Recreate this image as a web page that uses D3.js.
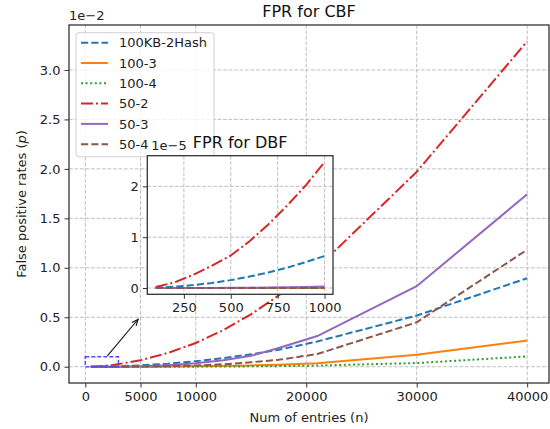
<!DOCTYPE html>
<html>
<head>
<meta charset="utf-8">
<script src="https://cdn.jsdelivr.net/npm/d3@7"></script>
<style>
  body { margin: 0; background: #fff; }
  svg { font-family: "DejaVu Sans", sans-serif; }
</style>
</head>
<body>
<div id="chart"></div>
<script>
// main chart (CBF), values in units of 1e-2
let cbfEntries = [500, 1000, 2500, 5000, 7500, 10000, 12500, 15000, 17500, 21000, 30000, 40000];
let cbf100kb2 = [0.0001, 0.0006, 0.0035, 0.014, 0.031, 0.056, 0.087, 0.126, 0.171, 0.255, 0.517, 0.895];
let cbf100_3 = [0, 0, 0.0001, 0.0006, 0.002, 0.004, 0.008, 0.013, 0.021, 0.035, 0.12, 0.264];
let cbf100_4 = [0, 0, 0, 0.0001, 0.0004, 0.001, 0.002, 0.004, 0.006, 0.012, 0.037, 0.104];
let cbf50_2 = [0.001, 0.003, 0.017, 0.065, 0.14, 0.24, 0.37, 0.53, 0.72, 1.0, 1.97, 3.29];
let cbf50_3 = [0, 0.0001, 0.001, 0.005, 0.015, 0.035, 0.065, 0.11, 0.19, 0.31, 0.814, 1.743];
let cbf50_4 = [0, 0, 0.0002, 0.0015, 0.005, 0.012, 0.025, 0.045, 0.07, 0.128, 0.449, 1.183];

// inset chart (DBF), values in units of 1e-5
let dbfEntries = [100, 200, 300, 400, 500, 600, 700, 800, 900, 1000];
let dbf100kb2 = [0.006, 0.025, 0.057, 0.10, 0.155, 0.225, 0.305, 0.40, 0.51, 0.63];
let dbf100_3 = [0, 0, 0, 0, 0.0001, 0.0002, 0.0003, 0.0005, 0.0007, 0.001];
let dbf100_4 = [0, 0, 0, 0, 0, 0, 0, 0.0001, 0.0001, 0.0002];
let dbf50_2 = [0.02, 0.11, 0.26, 0.44, 0.64, 0.92, 1.25, 1.62, 2.02, 2.48];
let dbf50_3 = [0, 0, 0.001, 0.002, 0.004, 0.006, 0.01, 0.015, 0.021, 0.03];
let dbf50_4 = [0, 0, 0, 0, 0.0002, 0.0004, 0.0007, 0.001, 0.0015, 0.002];

let seriesNames = ['100KB-2Hash', '100-3', '100-4', '50-2', '50-3', '50-4'];
let seriesColors = ['#1f77b4', '#ff7f0e', '#2ca02c', '#d62728', '#9467bd', '#8c564b'];
let seriesDash = ['7.2,3.1', null, '2,2.6', '12,3,2,3', null, '7.2,3.1'];

let xTicks = [0, 5000, 10000, 20000, 30000, 40000];
let yTicks = [0, 0.5, 1.0, 1.5, 2.0, 2.5, 3.0];
let insetXTicks = [250, 500, 750, 1000];
let insetYTicks = [0, 1, 2];

let cbfSeries = [cbf100kb2, cbf100_3, cbf100_4, cbf50_2, cbf50_3, cbf50_4];
let dbfSeries = [dbf100kb2, dbf100_3, dbf100_4, dbf50_2, dbf50_3, dbf50_4];

let width = 550, height = 429;
let box = {left: 69, top: 25, right: 549, bottom: 383};
let inBox = {left: 147.3, top: 155.7, right: 333, bottom: 294.3};

let svg = d3.select('#chart').append('svg')
    .attr('width', width)
    .attr('height', height);

function padded(lo, hi) {
    let r = hi - lo;
    return [lo - 0.05 * r, hi + 0.05 * r];
}

let allCbf = cbfSeries.flat();
let xScale = d3.scaleLinear()
    .domain(padded(d3.min(cbfEntries), d3.max(cbfEntries)))
    .range([box.left, box.right]);
let yScale = d3.scaleLinear()
    .domain(padded(d3.min(allCbf), d3.max(allCbf)))
    .range([box.bottom, box.top]);

let allDbf = dbfSeries.flat();
let ixScale = d3.scaleLinear()
    .domain(padded(d3.min(dbfEntries), d3.max(dbfEntries)))
    .range([inBox.left, inBox.right]);
let iyScale = d3.scaleLinear()
    .domain(padded(d3.min(allDbf), d3.max(allDbf)))
    .range([inBox.bottom, inBox.top]);

function drawPanel(g, b, xs, ys, xt, yt, xFmt, yFmt, entries, series) {
    g.append('rect')
        .attr('x', b.left).attr('y', b.top)
        .attr('width', b.right - b.left).attr('height', b.bottom - b.top)
        .attr('fill', '#fff');

    let clipId = 'clip' + Math.round(b.left);
    g.append('clipPath').attr('id', clipId)
        .append('rect')
        .attr('x', b.left).attr('y', b.top)
        .attr('width', b.right - b.left).attr('height', b.bottom - b.top);

    let grid = g.append('g').attr('class', 'grid');
    grid.selectAll('.vg').data(xt).enter().append('line')
        .attr('x1', d => xs(d)).attr('x2', d => xs(d))
        .attr('y1', b.top).attr('y2', b.bottom);
    grid.selectAll('.hg').data(yt).enter().append('line')
        .attr('x1', b.left).attr('x2', b.right)
        .attr('y1', d => ys(d)).attr('y2', d => ys(d));
    grid.selectAll('line')
        .attr('stroke', '#b8b8b8')
        .attr('stroke-width', 0.9)
        .attr('stroke-dasharray', '3.8,1.7');

    let line = d3.line()
        .x((d, i) => xs(entries[i]))
        .y(d => ys(d));

    let lines = g.append('g').attr('clip-path', `url(#${clipId})`);
    series.forEach(function (vals, i) {
        lines.append('path')
            .datum(vals)
            .attr('d', line)
            .attr('fill', 'none')
            .attr('stroke', seriesColors[i])
            .attr('stroke-width', 2)
            .attr('stroke-dasharray', seriesDash[i]);
    });

    let xAxis = g.append('g')
        .attr('transform', `translate(0, ${b.bottom})`)
        .call(d3.axisBottom(xs).tickValues(xt).tickFormat(xFmt).tickSizeOuter(0).tickSize(4.5).tickPadding(4));
    let yAxis = g.append('g')
        .attr('transform', `translate(${b.left}, 0)`)
        .call(d3.axisLeft(ys).tickValues(yt).tickFormat(yFmt).tickSizeOuter(0).tickSize(4.5).tickPadding(4));
    [xAxis, yAxis].forEach(function (a) {
        a.select('.domain').remove();
        a.selectAll('text').attr('font-size', 13).attr('fill', '#222')
            .attr('font-family', '"DejaVu Sans", sans-serif');
        a.selectAll('line').attr('stroke', '#333');
    });

    g.append('rect')
        .attr('x', b.left).attr('y', b.top)
        .attr('width', b.right - b.left).attr('height', b.bottom - b.top)
        .attr('fill', 'none')
        .attr('stroke', '#333')
        .attr('stroke-width', 1.3);
}

let mainG = svg.append('g');
drawPanel(mainG, box, xScale, yScale, xTicks, yTicks, d3.format('d'), d3.format('.1f'),
    cbfEntries, cbfSeries);

// zoomed region marker and arrow
mainG.append('rect')
    .attr('x', xScale(0)).attr('y', yScale(0.1))
    .attr('width', xScale(3000) - xScale(0))
    .attr('height', yScale(0) - yScale(0.1))
    .attr('fill', 'none')
    .attr('stroke', '#4d4dff')
    .attr('stroke-width', 1.5)
    .attr('stroke-dasharray', '4,2');

let ax0 = xScale(2000), ay0 = yScale(0.11),
    ax1 = xScale(4780), ay1 = yScale(0.48);
let ang = Math.atan2(ay1 - ay0, ax1 - ax0);
mainG.append('line')
    .attr('x1', ax0).attr('y1', ay0).attr('x2', ax1).attr('y2', ay1)
    .attr('stroke', '#111').attr('stroke-width', 1.1);
mainG.append('path')
    .attr('d', `M${ax1 - 7 * Math.cos(ang - 0.4)},${ay1 - 7 * Math.sin(ang - 0.4)}L${ax1},${ay1}L${ax1 - 7 * Math.cos(ang + 0.4)},${ay1 - 7 * Math.sin(ang + 0.4)}`)
    .attr('fill', 'none').attr('stroke', '#111').attr('stroke-width', 1.1);

mainG.append('text')
    .attr('x', box.left).attr('y', 20)
    .attr('font-size', 13).attr('fill', '#222')
    .text('1e\u22122');

mainG.append('text')
    .attr('x', (box.left + box.right) / 2).attr('y', 17)
    .attr('text-anchor', 'middle')
    .attr('font-size', 16).attr('fill', '#111')
    .text('FPR for CBF');

mainG.append('text')
    .attr('x', (box.left + box.right) / 2).attr('y', 422)
    .attr('text-anchor', 'middle')
    .attr('font-size', 13).attr('fill', '#222')
    .text('Num of entries (n)');

let yl = mainG.append('text')
    .attr('transform', `translate(26, ${(box.top + box.bottom) / 2}) rotate(-90)`)
    .attr('text-anchor', 'middle')
    .attr('font-size', 13).attr('fill', '#222');
yl.append('tspan').text('False positive rates (');
yl.append('tspan').attr('font-style', 'italic').text('p');
yl.append('tspan').text(')');

// legend
let legend = svg.append('g');
legend.append('rect')
    .attr('x', 76).attr('y', 32.7)
    .attr('width', 138).attr('height', 124)
    .attr('rx', 3)
    .attr('fill', '#fff').attr('fill-opacity', 0.8)
    .attr('stroke', '#d0d0d0');
seriesNames.forEach(function (name, i) {
    let yy = 42.7 + i * 20.3;
    legend.append('line')
        .attr('x1', 81).attr('x2', 108).attr('y1', yy).attr('y2', yy)
        .attr('stroke', seriesColors[i])
        .attr('stroke-width', 2)
        .attr('stroke-dasharray', seriesDash[i]);
    legend.append('text')
        .attr('x', 119).attr('y', yy + 4.7)
        .attr('font-size', 13).attr('fill', '#222')
        .text(name);
});

// inset
let insetG = svg.append('g');
drawPanel(insetG, inBox, ixScale, iyScale, insetXTicks, insetYTicks, d3.format('d'), d3.format('d'),
    dbfEntries, dbfSeries);

insetG.append('text')
    .attr('x', inBox.left + 4).attr('y', 150)
    .attr('font-size', 13).attr('fill', '#222')
    .text('1e\u22125');

insetG.append('text')
    .attr('x', (inBox.left + inBox.right) / 2).attr('y', 148)
    .attr('text-anchor', 'middle')
    .attr('font-size', 16).attr('fill', '#111')
    .text('FPR for DBF');
</script>
</body>
</html>
